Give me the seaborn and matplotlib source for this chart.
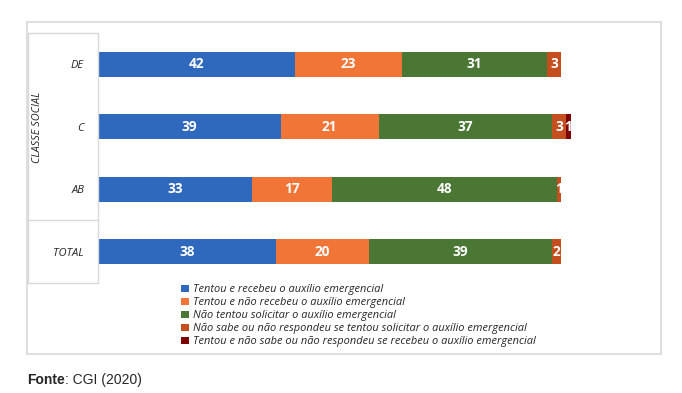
import numpy as np
import pandas as pd
import matplotlib
matplotlib.use("Agg")
import matplotlib.pyplot as plt
from matplotlib.patches import Rectangle, Patch
from matplotlib.lines import Line2D
import seaborn as sns

# ── Data ──────────────────────────────────────────────────────
groups = ["DE", "C", "AB", "TOTAL"]
series = [
    "Tentou e recebeu o auxílio emergencial",
    "Tentou e não recebeu o auxílio emergencial",
    "Não tentou solicitar o auxílio emergencial",
    "Não sabe ou não respondeu se tentou solicitar o auxílio emergencial",
    "Tentou e não sabe ou não respondeu se recebeu o auxílio emergencial",
]
recebeu = [42, 39, 33, 38]
nao_recebeu = [23, 21, 17, 20]
nao_tentou = [31, 37, 48, 39]
ns_tentou = [3, 3, 1, 2]
ns_recebeu = [0, 1, 0, 0]
colors = ["#2F69BE", "#F07537", "#4A7834", "#C44E1E", "#7B0000"]

df = pd.DataFrame({"grupo": groups, series[0]: recebeu, series[1]: nao_recebeu,
                   series[2]: nao_tentou, series[3]: ns_tentou, series[4]: ns_recebeu})
vals = df[series].to_numpy(dtype=float)
cum = vals.cumsum(axis=1)

# ── Figure ───────────────────────────────────────────────────
sns.set_style("white")
plt.rcParams["font.family"] = ["Open Sans", "DejaVu Sans"]
W, H = 682, 393
fig = plt.figure(figsize=(W / 100, H / 100), dpi=100)

def fx(px):
    return px / W

def fy(py):
    return 1 - py / H

ax_l, ax_r, ax_t, ax_b = 98, 650, 33, 283
ax = fig.add_axes([fx(ax_l), fy(ax_b), fx(ax_r - ax_l), (ax_b - ax_t) / H])

# stacked bars: draw cumulative totals from back to front
for i in reversed(range(len(series))):
    sns.barplot(x=cum[:, i], y=df["grupo"], orient="h", color=colors[i],
                width=0.4, ax=ax, saturation=1, edgecolor="none")

# value labels
for r in range(len(groups)):
    for i in range(len(series)):
        v = vals[r, i]
        if v <= 0:
            continue
        center = cum[r, i] - v / 2
        ax.text(center, r, f"{int(v)}", ha="center", va="center", color="white",
                fontsize=9.8, fontweight="bold")

ax.set_xlim(0, (ax_r - ax_l) / 4.68)
ax.set_ylim(3.5, -0.5)
ax.set_xlabel("")
ax.set_ylabel("")
ax.set_xticks([])
ax.tick_params(axis="y", length=0, pad=10)
for lab in ax.get_yticklabels():
    lab.set_fontstyle("italic")
    lab.set_fontsize(8)
for s in ax.spines.values():
    s.set_visible(False)

# outer chart frame
fig.add_artist(Rectangle((fx(27), fy(354)), fx(661 - 27), (354 - 22) / H,
                         transform=fig.transFigure, fill=False,
                         edgecolor="#D9D9D9", lw=1.2))
# category box
lc = "#D9D9D9"
for xs, ys in [([28, 98], [33, 33]), ([98, 98], [33, 283]), ([28, 98], [220, 220]),
               ([28, 98], [283, 283]), ([28, 28], [33, 283])]:
    fig.add_artist(Line2D([fx(x) for x in xs], [fy(y) for y in ys],
                          transform=fig.transFigure, color=lc, lw=1))

fig.text(fx(37), fy(127), "CLASSE SOCIAL", rotation=90, ha="center", va="center",
         fontsize=7.8, fontstyle="italic")

# legend
handles = [Patch(facecolor=c, edgecolor="none") for c in colors]
fig.legend(handles, series, loc="upper left", bbox_to_anchor=(fx(177), fy(280)),
           frameon=False, prop={"style": "italic", "size": 7.9},
           handlelength=0.65, handleheight=0.65, handletextpad=0.4,
           labelspacing=0.18, borderaxespad=0)

# source line
fonte = fig.text(fx(27), fy(380), "Fonte", fontsize=10, fontweight="bold",
                 family="Liberation Sans", va="center")
fig.text(0, 0, "")
plt.annotate(": CGI (2020)", xy=(1, 0.5), xycoords=fonte, va="center",
             fontsize=10, family="Liberation Sans", annotation_clip=False)

plt.savefig("out.png", dpi=100)
